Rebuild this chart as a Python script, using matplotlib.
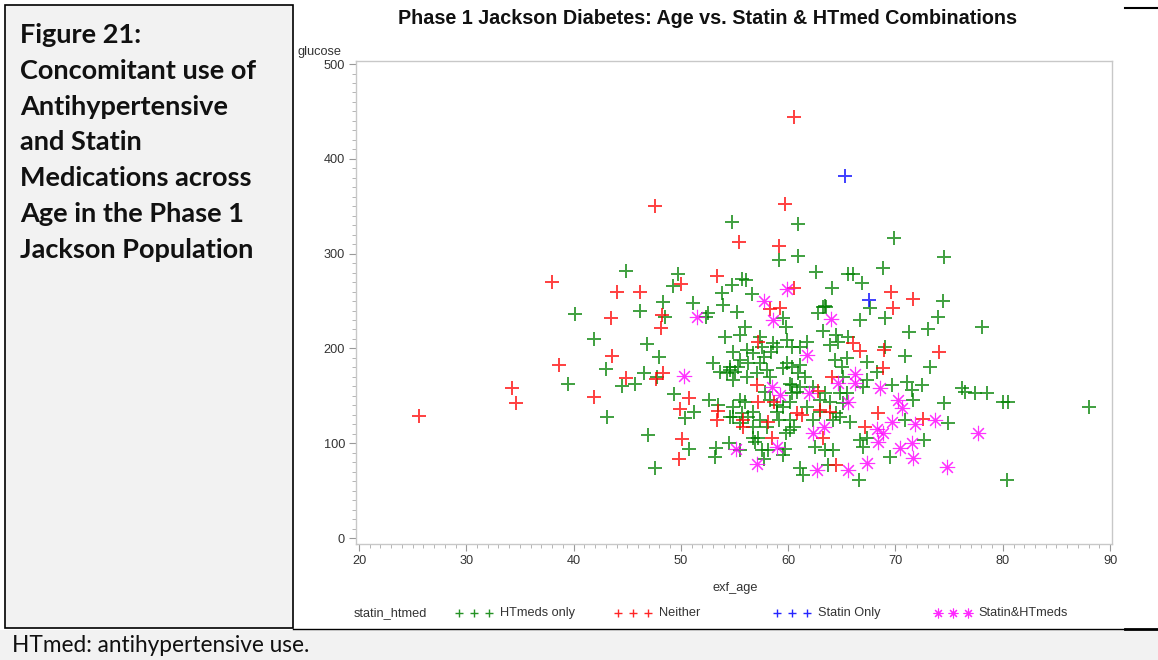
import numpy as np
import matplotlib
matplotlib.use("Agg")
import matplotlib.pyplot as plt
from matplotlib import font_manager
from matplotlib.lines import Line2D
from matplotlib.patches import Rectangle
from matplotlib.ticker import MultipleLocator

# age / glucose pairs per statin_htmed group
htmeds_age = [54.8, 60.9, 59.1, 60.9, 44.9, 49.7, 49.3, 55.7, 56.1, 54.8, 53.8, 56.6, 48.3, 51.1,
              53.9, 46.2, 55.2, 40.1, 48.5, 52.5, 52.3, 59.5, 56.0, 62.6, 64.1, 65.6, 59.8, 62.8,
              63.4, 63.2, 64.5, 55.5, 54.1, 57.4, 41.9, 46.8, 48.0, 43.0, 39.5, 43.1, 46.6, 44.5,
              45.7, 47.8, 49.4, 51.2, 50.4, 46.9, 50.8, 47.6, 52.6, 53.5, 53.3, 53.2, 54.5, 57.7,
              56.3, 56.7, 57.2, 56.9, 57.6, 59.7, 55.5, 56.0, 56.7, 57.8, 58.3, 59.0, 60.4, 60.4,
              60.2, 59.8, 61.1, 61.4, 65.5, 63.7, 54.3, 54.9, 55.3, 56.2, 56.7, 57.6, 57.4, 58.6,
              59.0, 59.9, 60.4, 61.1, 61.8, 59.9, 60.4, 60.9, 60.2, 61.1, 59.0, 59.5, 60.2, 61.8,
              62.3, 63.0, 63.4, 63.9, 64.2, 64.5, 65.1, 64.2, 62.5, 63.4, 65.1, 65.5, 65.6, 54.6,
              53.0, 55.5, 69.9, 74.5, 66.0, 66.9, 68.8, 63.2, 63.5, 66.7, 67.6, 74.4, 74.0, 69.0,
              71.3, 73.0, 78.1, 63.9, 64.6, 69.0, 70.9, 73.2, 67.3, 68.3, 64.4, 65.0, 61.1, 69.7,
              71.1, 72.5, 71.5, 76.2, 76.5, 77.4, 78.5, 80.0, 80.5, 88.0, 74.5, 71.6, 70.9, 74.9,
              72.7, 69.5, 80.4, 66.6, 65.8, 64.8, 66.7, 67.3, 67.0, 60.5, 63.0, 67.0, 67.3, 54.9,
              55.5, 54.6, 56.2, 57.1, 58.0, 58.3, 59.5, 54.9, 55.7, 57.4, 58.0, 59.1, 54.6,
              53.6, 55.0, 56.3, 57.7, 58.4, 54.9, 55.5, 56.7, 58.1, 59.5, 60.2, 60.8, 61.6,
              62.3, 64.8]
htmeds_glucose = [333, 331, 293, 297, 282, 278, 266, 273, 272, 267, 258, 257, 249, 248,
                  246, 240, 238, 236, 233, 237, 233, 232, 223, 281, 264, 279, 223, 237,
                  245, 218, 214, 214, 212, 212, 210, 205, 191, 178, 163, 128, 174, 160,
                  163, 170, 152, 133, 127, 109, 94, 74, 146, 140, 95, 85, 100, 83,
                  128, 117, 106, 101, 93, 94, 146, 143, 133, 154, 146, 140, 161, 153,
                  114, 111, 74, 66, 153, 77, 174, 167, 180, 198, 195, 201, 185, 206,
                  201, 209, 201, 201, 207, 185, 180, 174, 163, 159, 133, 138, 124, 138,
                  124, 146, 153, 143, 124, 132, 142, 93, 96, 93, 170, 190, 212, 180,
                  185, 93, 316, 296, 279, 269, 285, 244, 244, 230, 243, 250, 233, 232,
                  217, 220, 223, 204, 207, 201, 192, 180, 186, 175, 188, 180, 182, 161,
                  165, 161, 156, 158, 154, 153, 153, 143, 143, 138, 142, 146, 124, 121,
                  103, 85, 61, 61, 122, 128, 103, 106, 96, 117, 133, 159, 167, 196,
                  188, 177, 170, 174, 177, 170, 179, 138, 132, 124, 117, 124, 128,
                  175, 175, 185, 191, 196, 128, 121, 105, 93, 88, 143, 154, 170,
                  159, 153]

neither_age = [60.5, 47.6, 59.7, 55.4, 59.1, 38.0, 50.0, 53.4, 44.0, 46.2, 60.5, 58.3, 59.2, 43.5,
               48.2, 48.1, 43.6, 38.6, 34.3, 34.6, 41.9, 44.9, 47.7, 48.3, 50.8, 49.9, 50.1, 49.8,
               53.5, 53.4, 55.8, 55.8, 57.1, 57.2, 58.5, 58.7, 60.8, 61.3, 63.0, 63.9, 63.2, 62.8,
               64.1, 64.5, 69.6, 71.6, 69.8, 66.0, 66.7, 57.2, 68.9, 74.1, 68.8, 68.4, 72.6, 67.2,
               25.6, 58.1]
neither_glucose = [444, 350, 352, 312, 308, 270, 268, 276, 260, 260, 264, 242, 243, 232,
                   235, 222, 192, 183, 158, 142, 149, 169, 168, 174, 148, 136, 104, 83,
                   134, 125, 125, 117, 161, 143, 106, 143, 132, 130, 135, 133, 106, 155,
                   170, 77, 260, 252, 243, 206, 197, 207, 198, 196, 179, 132, 126, 117,
                   129, 122]

statin_age = [65.3, 67.5]
statin_glucose = [382, 251]

both_age = [59.9, 57.7, 51.5, 58.6, 64.0, 50.3, 55.1, 57.1, 59.0, 58.5, 59.2, 61.9, 61.8, 64.6,
            65.6, 62.3, 63.3, 62.7, 65.6, 66.2, 66.2, 68.6, 70.2, 70.6, 69.7, 71.8, 73.7, 68.3,
            68.8, 68.4, 77.7, 70.4, 71.5, 71.6, 74.8, 67.3]
both_glucose = [263, 250, 233, 230, 231, 171, 94, 78, 96, 159, 151, 153, 193, 164,
                144, 111, 117, 72, 72, 173, 164, 158, 146, 137, 122, 120, 125, 115,
                111, 101, 111, 95, 100, 84, 75, 79]

groups = ["HTmeds only", "Neither", "Statin Only", "Statin&HTmeds"]
colors = ["#008000", "#ff0000", "#0000ff", "#ff00ff"]

W, H = 1158, 660
installed = {f.name for f in font_manager.fontManager.ttflist}
narrow = "Liberation Sans Narrow" if "Liberation Sans Narrow" in installed else "Liberation Sans"
CHART_FONT = [narrow, "DejaVu Sans"]
DOC_FONT = ["Lato", "DejaVu Sans"]
SMALL = 9.2


def fx(px):
    return px / W


def fy(py):
    return 1 - py / H


fig = plt.figure(figsize=(W / 100, H / 100), dpi=100)
fig.patch.set_facecolor("white")

# document table around the chart
fig.patches.append(Rectangle((fx(5), fy(628)), fx(288), 623 / H, transform=fig.transFigure,
                             facecolor="#f2f2f2", edgecolor="black", lw=1.2, zorder=0))
fig.patches.append(Rectangle((0, 0), 1, 30 / H, transform=fig.transFigure,
                             facecolor="#f2f2f2", edgecolor="none", zorder=0))
fig.add_artist(Line2D([fx(293), fx(1125)], [fy(628.5)] * 2, color="black", lw=1.0))
fig.add_artist(Line2D([fx(1125), fx(1158)], [fy(629)] * 2, color="black", lw=2.0))
fig.add_artist(Line2D([fx(1125), fx(1158)], [fy(8)] * 2, color="black", lw=1.5))

side_lines = ["Figure 21:", "Concomitant use of", "Antihypertensive", "and Statin",
              "Medications across", "Age in the Phase 1", "Jackson Population"]
for i, line in enumerate(side_lines):
    fig.text(fx(20), fy(35 + i * 35.8), line, family=DOC_FONT, fontsize=19.5,
             fontweight="bold", va="center", ha="left", color="#111111")
fig.text(fx(12), fy(645), "HTmed: antihypertensive use.", family=DOC_FONT, fontsize=16.3,
         va="center", ha="left", color="#111111")

# scatter panel
ax = fig.add_axes([fx(356), fy(544), fx(1112) - fx(356), fy(61) - fy(544)])
data = [(htmeds_age, htmeds_glucose), (neither_age, neither_glucose),
        (statin_age, statin_glucose), (both_age, both_glucose)]
for (xs, ys), c, g in zip(data, colors, groups):
    if g == "Statin&HTmeds":
        ax.plot(xs, ys, linestyle="none", marker=(8, 2, 0), markersize=11, mew=0.8,
                color=c, alpha=0.8)
    else:
        ax.plot(xs, ys, linestyle="none", marker="+", markersize=9.5, mew=1.4,
                color=c, alpha=0.75)

ax.set_xlim(19.72, 90.18)
ax.set_ylim(-6.3, 503.2)
ax.xaxis.set_major_locator(MultipleLocator(10))
ax.xaxis.set_minor_locator(MultipleLocator(1))
ax.yaxis.set_major_locator(MultipleLocator(100))
ax.yaxis.set_minor_locator(MultipleLocator(10))
for s in ["top", "right", "left", "bottom"]:
    ax.spines[s].set_color("#c8c8c8")
    ax.spines[s].set_linewidth(1.0)
ax.tick_params(which="major", length=5, width=0.8, color="#999999", labelcolor="#333333",
               labelsize=SMALL, pad=3)
ax.tick_params(which="minor", length=3, width=0.6, color="#aaaaaa")
for lab in ax.get_xticklabels() + ax.get_yticklabels():
    lab.set_family(CHART_FONT)

fig.text(fx(708), fy(18), "Phase 1 Jackson Diabetes: Age vs. Statin & HTmed Combinations",
         family=CHART_FONT, fontsize=14.2, fontweight="bold", ha="center", va="center",
         color="#111111")
fig.text(fx(298), fy(52), "glucose", family=CHART_FONT, fontsize=SMALL, ha="left",
         va="center", color="#333333")
fig.text(fx(735), fy(588), "exf_age", family=CHART_FONT, fontsize=SMALL, ha="center",
         va="center", color="#333333")

# legend row
fig.text(fx(354), fy(613), "statin_htmed", family=CHART_FONT, fontsize=SMALL, ha="left",
         va="center", color="#333333")
mark_x = [459, 618, 777, 938]
label_x = [500, 659, 818, 978]
for g, c, mx, lx in zip(groups, colors, mark_x, label_x):
    star = g == "Statin&HTmeds"
    fig.add_artist(Line2D([fx(mx + k * 15) for k in range(3)], [fy(613)] * 3, linestyle="none",
                          marker=(8, 2, 0) if star else "+", markersize=7 if star else 6,
                          mew=0.8 if star else 1.0, color=c, alpha=0.85))
    fig.text(fx(lx), fy(613), g, family=CHART_FONT, fontsize=SMALL, ha="left",
             va="center", color="#333333")

fig.savefig("out.png", dpi=100)
